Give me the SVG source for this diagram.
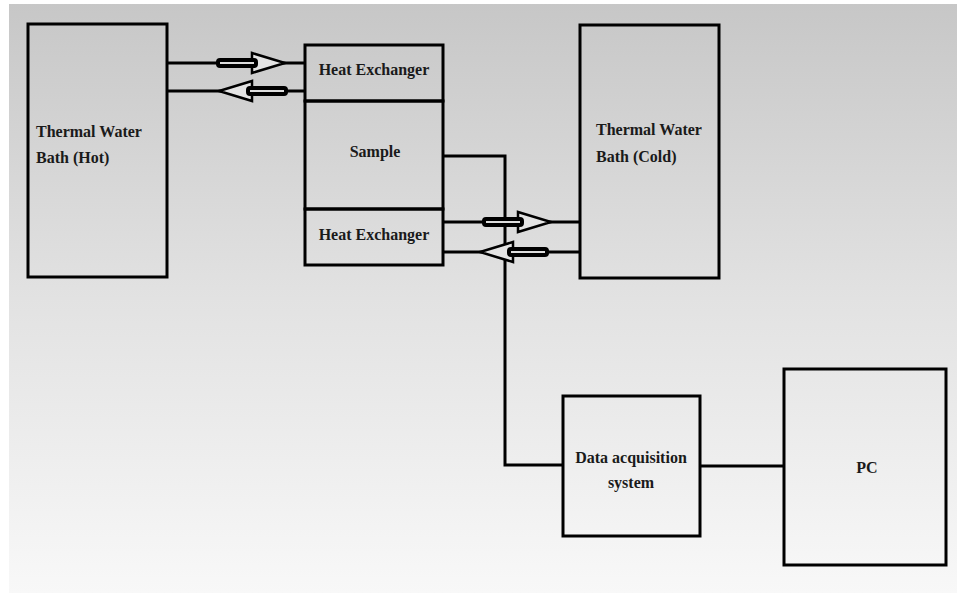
<svg xmlns="http://www.w3.org/2000/svg" width="957" height="595" viewBox="0 0 957 595">
  <defs>
    <linearGradient id="bg" x1="0" y1="0" x2="0" y2="1">
      <stop offset="0" stop-color="#c7c7c7"/>
      <stop offset="0.5" stop-color="#e2e2e2"/>
      <stop offset="1" stop-color="#f8f8f8"/>
    </linearGradient>
    <g id="blk">
      <path class="head" d="M34,-10 L67,0 L34,10 Z"/>
      <rect class="shaft" x="0" y="-3" width="38" height="6" rx="2"/>
    </g>
  </defs>
  <style>
    .box { fill: none; stroke: #000; stroke-width: 3; }
    .wire { fill: none; stroke: #000; stroke-width: 3; }
    .head { fill: #e4e4e4; stroke: #000; stroke-width: 2.5; stroke-linejoin: miter; }
    .shaft { fill: #dddddd; stroke: #000; stroke-width: 4; }
    .lbl { font-family: "Liberation Serif", "Times New Roman", serif; font-weight: bold; font-size: 16px; fill: #1a1a1a; }
    .mid { text-anchor: middle; }
  </style>
  <rect x="0" y="0" width="957" height="595" fill="#ffffff"/>
  <rect x="9" y="4" width="948" height="589" fill="url(#bg)"/>

  <g id="connectors">
    <line class="wire" x1="167" y1="63" x2="305" y2="63"/>
    <line class="wire" x1="167" y1="91" x2="305" y2="91"/>
    <line class="wire" x1="443" y1="222" x2="580" y2="222"/>
    <line class="wire" x1="443" y1="252" x2="580" y2="252"/>
    <polyline class="wire" points="443,156 505,156 505,465 563,465"/>
    <line class="wire" x1="700" y1="466" x2="784" y2="466"/>
    <use href="#blk" transform="translate(218,63)"/>
    <use href="#blk" transform="translate(286,91) scale(-1,1)"/>
    <use href="#blk" transform="translate(484,222)"/>
    <use href="#blk" transform="translate(547,252) scale(-1,1)"/>
  </g>

  <g id="hot-bath">
    <rect class="box" x="28" y="24" width="139" height="253"/>
    <text class="lbl" x="36" y="137">Thermal Water</text>
    <text class="lbl" x="36" y="163">Bath (Hot)</text>
  </g>

  <g id="heat-exchanger-top">
    <rect class="box" x="305" y="45" width="138" height="56"/>
    <text class="lbl mid" x="374" y="75" font-size="15">Heat Exchanger</text>
  </g>

  <g id="sample">
    <rect class="box" x="305" y="101" width="138" height="108"/>
    <text class="lbl mid" x="375" y="157">Sample</text>
  </g>

  <g id="heat-exchanger-bottom">
    <rect class="box" x="305" y="209" width="138" height="56"/>
    <text class="lbl mid" x="374" y="240" font-size="15">Heat Exchanger</text>
  </g>

  <g id="cold-bath">
    <rect class="box" x="580" y="25" width="139" height="253"/>
    <text class="lbl" x="596" y="135">Thermal Water</text>
    <text class="lbl" x="596" y="162">Bath (Cold)</text>
  </g>

  <g id="daq">
    <rect class="box" x="563" y="396" width="137" height="140"/>
    <text class="lbl mid" x="631" y="463">Data acquisition</text>
    <text class="lbl mid" x="631" y="488">system</text>
  </g>

  <g id="pc">
    <rect class="box" x="784" y="369" width="162" height="196"/>
    <text class="lbl mid" x="867" y="473">PC</text>
  </g>
</svg>
